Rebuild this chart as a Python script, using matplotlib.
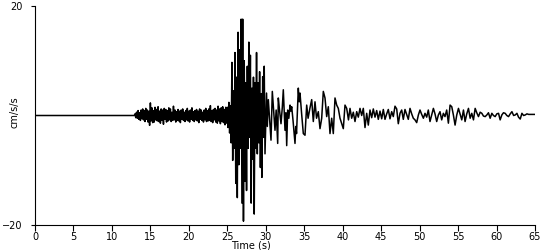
import numpy as np
import matplotlib.pyplot as plt

# quiet part before the first arrivals
quiet_t = [0.0, 12.9]
quiet_a = [0.0, 0.0]

# P-wave noise, one value every 0.1 s from 13.0 s to 24.9 s
pwave_t = np.arange(130, 250) / 10
pwave_a = [
    0.3, -0.4, 0.6, -0.5, 0.9, -0.7, 0.5, -0.9, 1.0, -0.6,
    1.2, -0.8, 0.9, -1.1, 1.3, -0.7, 1.0, -1.2, 0.8, -1.8,
    2.3, -1.0, 1.4, -1.3, 0.9, -1.2, 1.5, -0.8, 1.1, -1.0,
    1.6, -1.1, 0.8, -1.4, 1.2, -0.9, 1.0, -1.6, 1.3, -0.7,
    1.1, -1.2, 0.9, -1.0, 1.4, -0.8, 1.2, -1.1, 0.6, -0.9,
    1.7, -0.8, 1.0, -1.2, 0.7, -0.9, 1.1, -1.0, 0.8, -1.3,
    1.0, -0.7, 1.2, -0.9, 0.6, -1.1, 0.9, -0.8, 1.3, -1.0,
    0.8, -1.2, 1.0, -0.7, 1.4, -0.9, 0.7, -1.1, 0.9, -0.8,
    1.1, -1.0, 0.8, -1.3, 1.2, -0.7, 1.0, -0.9, 0.6, -1.2,
    1.0, -0.8, 1.3, -1.1, 0.9, -1.0, 1.2, -0.9, 1.8, -1.1,
    0.9, -1.3, 1.1, -0.8, 1.3, -1.2, 1.0, -1.4, 1.7, -1.0,
    1.2, -1.5, 1.4, -1.1, 1.6, -1.3, 1.1, -1.7, 1.5, -1.4,
]

# strong shaking, every 0.1 s from 25.0 s to 29.9 s
strong_t = np.arange(250, 300) / 10
strong_a = [
    1.5, -2.2, 2.4, -3.2, 1.8, -5.0, 9.7, -8.2, 4.5, -6.0,
    11.5, -12.4, 7.0, -15.0, 15.2, -9.0, 12.0, -6.0, 17.6, -16.0,
    17.6, -19.3, 10.0, -12.0, 6.0, -13.7, 9.0, -6.0, 13.4, -4.0,
    11.0, -16.0, 5.0, -8.0, 7.0, -18.0, 6.0, -6.0, 11.5, -7.0,
    6.0, -5.0, 8.0, -9.5, 4.0, -11.3, 7.1, -4.0, 9.0, -7.0,
]

# coda, picked peaks and troughs
coda_t = [
    30.10, 30.20, 30.33, 30.68, 30.85, 31.05, 31.20, 31.35, 31.55, 31.63,
    31.80, 31.98, 32.15, 32.28, 32.50, 32.62, 32.72, 32.85, 33.00, 33.15,
    33.25, 33.37, 33.55, 33.80, 33.90, 34.00, 34.23, 34.35, 34.45, 34.65,
    34.88, 35.10, 35.32, 35.50, 35.75, 35.97, 36.18, 36.40, 36.60, 36.83,
    37.05, 37.27, 37.48, 37.70, 37.92, 38.13, 38.35, 38.57, 38.78, 39.00,
    39.22, 39.43, 39.65, 40.08, 40.30, 40.52, 40.75, 40.95, 41.17, 41.38,
    41.60, 41.82, 42.03, 42.25, 42.47, 42.68, 42.90, 43.12, 43.33, 43.55,
    43.77, 43.98, 44.20, 44.42, 44.63, 44.85, 45.07, 45.28, 45.50, 45.72,
    45.93, 46.15, 46.37, 46.58, 46.80, 47.02, 47.23, 47.45, 47.67, 47.88,
    48.10, 48.32, 48.53, 48.75, 48.97, 49.18, 49.40, 49.62, 49.84, 50.05,
    50.27, 50.49, 50.70, 50.92, 51.13, 51.35, 51.57, 51.79, 52.00, 52.22,
    52.44, 52.65, 52.87, 53.09, 53.30, 53.52, 53.74, 53.96, 54.18, 54.39,
    54.61, 54.83, 55.05, 55.27, 55.48, 55.70, 55.91, 56.13, 56.35, 56.57,
    56.78, 57.00, 57.22, 57.43, 57.65, 57.87, 58.09, 58.30, 58.52, 58.74,
    58.95, 59.17, 59.39, 59.60, 59.82, 60.04, 60.26, 60.47, 60.69, 60.90,
    61.12, 61.34, 61.56, 61.78, 62.00, 62.22, 62.43, 62.65, 62.86, 63.08,
    63.30, 63.52, 63.73, 63.95, 64.17, 64.40, 64.60, 64.82, 65.00,
]
coda_a = [
    4.1, -2.0, 2.9, -4.5, 4.4, 0.5, -2.7, 1.0, -5.1, 3.2,
    0.8, -1.5, 1.5, 4.7, -2.7, 0.5, -5.5, 1.0, -0.5, 1.9,
    0.8, 1.6, -1.0, -5.1, -2.0, -3.3, 5.0, 2.5, 4.1, 0.5,
    -3.3, -3.6, 1.9, -0.5, 1.4, 2.9, -1.1, 2.5, -0.5, 0.7,
    -2.4, -0.5, 4.4, 3.2, -0.2, 1.6, -3.3, -0.5, -3.3, 3.2,
    1.9, 1.3, -0.5, -2.4, 1.9, 1.3, -0.8, 1.3, -0.5, 0.6,
    -1.1, 0.7, -0.3, 1.3, 0.0, 1.3, -2.2, 0.4, -1.75, 1.0,
    -0.4, 1.2, -0.3, 0.9, -0.7, 0.8, -0.6, 1.1, -0.7, 0.3,
    1.1, -0.6, 0.7, -0.2, 1.7, 1.2, -1.5, 0.4, 1.0, -0.7,
    1.1, 0.2, -0.7, 1.3, 0.3, -0.5, -0.8, -1.3, 0.1, 1.0,
    0.2, -0.5, 0.4, -0.3, 1.0, -1.1, 0.1, 1.3, 0.3, -1.1,
    0.1, 0.7, -0.8, 0.4, -0.2, 1.0, -1.4, 1.9, 1.6, 0.1,
    -1.75, 0.1, 1.3, 0.2, -0.8, 1.0, -1.1, 0.3, 1.3, -0.5,
    0.4, -0.8, 1.3, 0.5, -0.2, 0.6, 0.4, -0.1, -0.2, 0.1,
    0.5, -0.5, 0.4, 0.0, -0.2, 0.3, 0.4, -0.8, 0.1, 0.5,
    0.4, 0.0, -0.2, 0.3, 0.7, 0.0, 0.1, 0.4, -0.3, -0.65,
    0.4, 0.0, 0.1, 0.3, 0.2, 0.2, 0.2, 0.2, 0.2,
]

t = np.concatenate([quiet_t, pwave_t, strong_t, coda_t])
a = np.concatenate([quiet_a, pwave_a, strong_a, coda_a])

fig = plt.figure(figsize=(5.5, 2.5), dpi=100)
ax = fig.add_axes([35 / 550, 25 / 250, 500 / 550, 219 / 250])

ax.plot(t, a, color="black", lw=1.1)

ax.set_xlim(0, 65)
ax.set_ylim(-20, 20)
ax.set_xticks(range(0, 70, 5))
ax.set_yticks([-20, 20])
ax.spines[["top", "right"]].set_visible(False)
ax.tick_params(axis="x", length=4, pad=1, labelsize=7)
ax.tick_params(axis="y", length=3, pad=6, labelsize=7)

ax.set_xlabel("Time (s)", fontsize=7, va="center")
ax.xaxis.set_label_coords(0.432, -0.095)
ax.set_ylabel("cm/s/s", fontsize=7, va="center", ha="center")
ax.yaxis.set_label_coords(-0.04, 0.515)

plt.savefig("out.png", dpi=100)
